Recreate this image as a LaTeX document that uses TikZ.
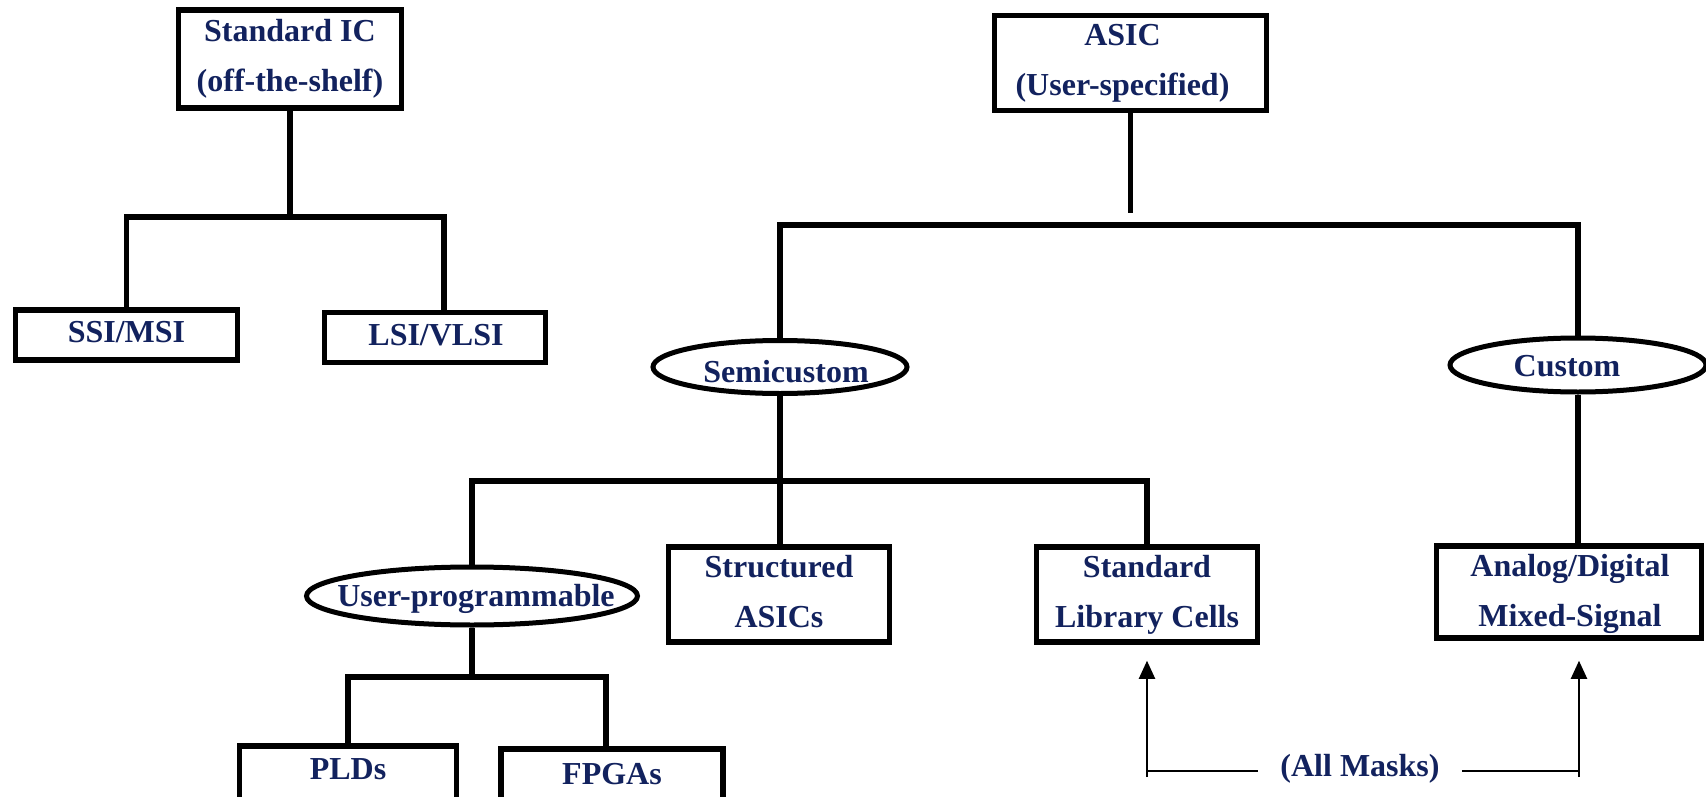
\documentclass[tikz,border=0pt]{standalone}
\usepackage{fontspec}
\setmainfont{Liberation Serif}
\usetikzlibrary{shapes.geometric,arrows.meta}
\definecolor{navy}{RGB}{18,34,94}
% place a text with a horizontal offset #1 and a vertical offset #2,
% keeping its reported size unchanged
\newcommand{\offtext}[3]{\makebox[0pt]{\hspace{#1}\hspace{#1}\raisebox{#2}[\height][\depth]{#3}}}
\tikzset{
  txt/.style={font=\fontsize{32}{50}\selectfont\bfseries, text=navy, align=center},
  box/.style={txt, draw, rectangle, line width=5.5pt, inner sep=0pt},
  onebox/.style={box, text height=22pt, text depth=0pt},
  oval/.style={txt, draw, ellipse, line width=5pt, inner sep=0pt, text height=22pt, text depth=7pt},
  tree/.style={line width=5.5pt, line join=miter},
  note/.style={line width=2pt},
  uparrow/.style={note, -{Triangle[width=16pt,length=18pt]}}
}
\begin{document}
\begin{tikzpicture}[x=1pt,y=-1pt]
\fill[white] (0,0) rectangle (1706,797);
\useasboundingbox (0,0) rectangle (1706,797);

% standard (off-the-shelf) branch
\node[box, minimum width=223pt, minimum height=98pt] (std) at (290,59) {Standard IC\\(off-the-shelf)};
\node[onebox, minimum width=222pt, minimum height=50pt] (ssi) at (126.5,335) {\offtext{0pt}{4pt}{SSI/MSI}};
\node[onebox, minimum width=221pt, minimum height=50pt] (lsi) at (435,337.5) {\offtext{1pt}{3pt}{LSI/VLSI}};

% application-specific branch
\node[box, minimum width=272pt, minimum height=95pt] (asic) at (1130.5,63) {\offtext{-8pt}{0pt}{ASIC}\\\offtext{-8pt}{0pt}{(User-specified)}};
\node[oval, minimum width=254pt, minimum height=53pt] (semi) at (780,367) {\offtext{6pt}{-7.5pt}{Semicustom}};
\node[oval, minimum width=256pt, minimum height=54pt] (custom) at (1578,365) {\offtext{-11pt}{-4pt}{Custom}};
\node[oval, minimum width=331pt, minimum height=58pt] (userprog) at (472,596) {\offtext{4pt}{-3pt}{User-programmable}};
\node[box, minimum width=221pt, minimum height=95pt] (struct) at (779,594.5) {\offtext{0pt}{3pt}{Structured}\\\offtext{0pt}{3pt}{ASICs}};
\node[box, minimum width=221pt, minimum height=95pt] (stdlib) at (1147,594.5) {Standard\\Library Cells};
\node[box, minimum width=265pt, minimum height=92pt] (mixed) at (1569,592) {\offtext{1pt}{-2pt}{Analog/Digital}\\\offtext{1pt}{-2pt}{Mixed-Signal}};
\node[onebox, minimum width=217pt, minimum height=56pt] (plds) at (348,774) {\offtext{0pt}{5.5pt}{PLDs}};
\node[onebox, minimum width=222pt, minimum height=56pt] (fpgas) at (612,777) {\offtext{0pt}{3.5pt}{FPGAs}};

% bus points
\coordinate (b1r) at (444,217);
\coordinate (astem) at (1131,213);
\coordinate (b2r) at (1578,225);
\coordinate (b3r) at (1147,481);
\coordinate (b4r) at (606,677);

% tree connectors
\draw[tree] (std.south) -- (std.south |- b1r);
\draw[tree] (ssi.north) |- (b1r) -- (b1r |- lsi.north);
\draw[tree] (asic.south) -- (asic.south |- astem);
\draw[tree] (semi.north) |- (b2r) -- (custom.north);
\draw[tree] (custom.south) -- (custom.south |- mixed.north);
\draw[tree] (semi.south) -- (semi.south |- struct.north);
\draw[tree] (userprog.north) |- (b3r) -- (stdlib.north);
\draw[tree] (userprog.south) -- (userprog.south |- b4r);
\draw[tree] (plds.north) |- (b4r) -- (b4r |- fpgas.north);

% full-mask note
\node[txt, inner xsep=22pt, inner ysep=0pt] (masks) at (1360,769) {(All Masks)};
\coordinate (m1) at (1147,777);
\coordinate (m1h) at (1147,771);
\coordinate (m2) at (1579,777);
\coordinate (m2h) at (1579,771);
\draw[uparrow, shorten >=16pt] (m1) -- (m1 |- stdlib.south);
\draw[uparrow, shorten >=20pt] (m2) -- (m2 |- mixed.south);
\draw[note] (m1h) -- (masks.west |- m1h);
\draw[note] (masks.east |- m2h) -- (m2h);
\end{tikzpicture}
\end{document}
